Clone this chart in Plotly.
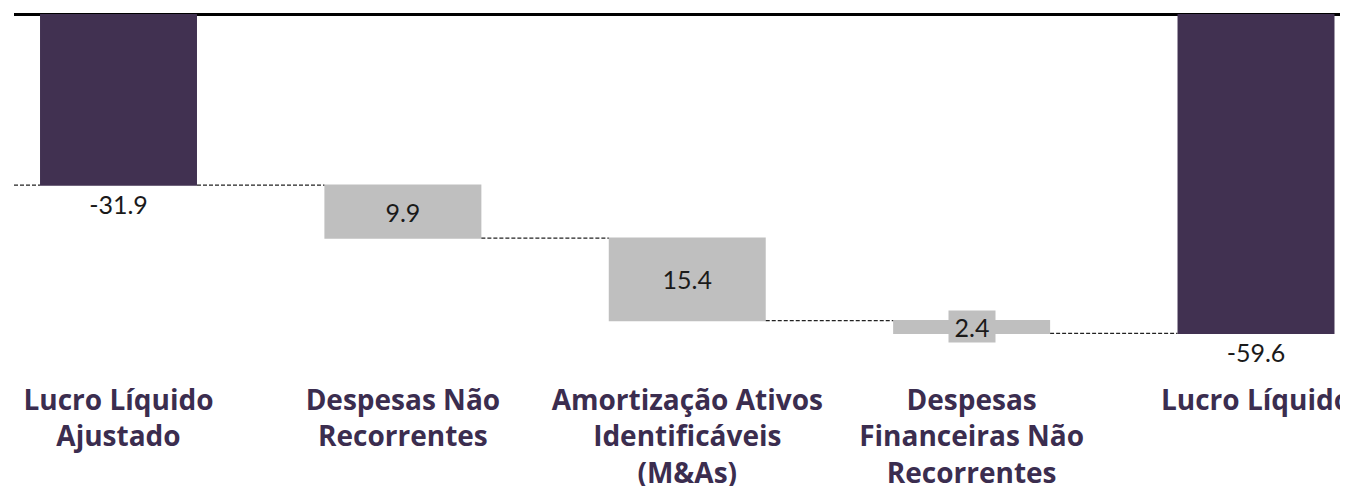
import plotly.graph_objects as go

categories = [
    "Lucro Líquido<br>Ajustado",
    "Despesas Não<br>Recorrentes",
    "Amortização Ativos<br>Identificáveis<br>(M&As)",
    "Despesas<br>Financeiras Não<br>Recorrentes",
    "Lucro Líquido",
]
measures = ["absolute", "relative", "relative", "relative", "total"]
values = [-31.9, -9.9, -15.4, -2.4, 0]
labels = ["-31.9", "9.9", "15.4", "", "-59.6"]
small_label = "2.4"

PURPLE = "#413151"
GRAY = "#bfbfbf"
TEXT = "#1a1a1a"
TICK = "#3b2d4f"
VAL_FONT = dict(family="Lato, sans-serif", size=25, color=TEXT)
DASH = dict(color="#222222", width=1.3, dash="4px,2px")

x_range = [-0.3675, 4.3235]
bar_width = 0.552

fig = go.Figure()
fig.add_trace(go.Waterfall(
    x=categories,
    measure=measures,
    y=values,
    text=labels,
    textposition=["outside", "inside", "inside", "none", "outside"],
    insidetextanchor="middle",
    textfont=VAL_FONT,
    outsidetextfont=VAL_FONT,
    insidetextfont=VAL_FONT,
    constraintext="none",
    width=bar_width,
    totals=dict(marker=dict(color=PURPLE)),
    decreasing=dict(marker=dict(color=GRAY)),
    increasing=dict(marker=dict(color=GRAY)),
    connector=dict(mode="between", line=DASH),
    cliponaxis=False,
    hoverinfo="skip",
))

# label for the thin bar, with grey background box
cum = sum(values[:4])
fig.add_annotation(
    x=categories[3], y=cum - values[3] / 2,
    text=small_label, showarrow=False,
    font=VAL_FONT, width=46, height=31,
    bgcolor=GRAY, borderpad=0,
)

# small dashed stub left of first bar
fig.add_shape(
    type="line", xref="x", yref="y",
    x0=x_range[0], x1=0 - bar_width / 2, y0=values[0], y1=values[0],
    line=DASH,
)

fig.update_layout(
    width=1340, height=478,
    margin=dict(l=6, r=0, t=6, b=113, autoexpand=False),
    paper_bgcolor="white", plot_bgcolor="white",
    showlegend=False,
    xaxis=dict(
        range=x_range, showgrid=False, showline=False, ticks="",
        tickfont=dict(family="Open Sans, sans-serif", size=28, color=TICK, weight="bold"),
        ticklabelstandoff=8, automargin=False,
    ),
    yaxis=dict(
        range=[-67, 0.1], showgrid=False, showticklabels=False,
        zeroline=True, zerolinecolor="black", zerolinewidth=2.5,
        automargin=False,
    ),
)

fig.write_html("out.html")
